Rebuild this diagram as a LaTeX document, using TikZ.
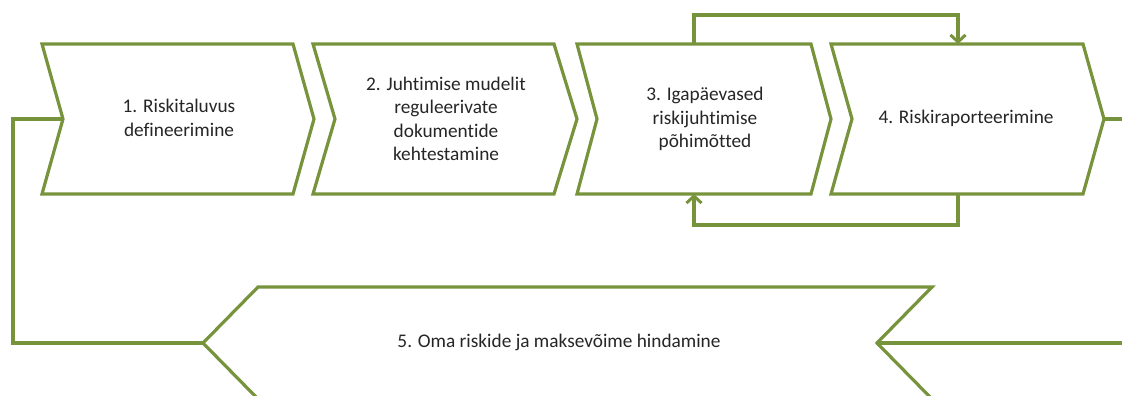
\documentclass[tikz,border=0pt]{standalone}
\usepackage{fontspec}
\setmainfont[Ligatures=NoCommon]{Carlito}
\usetikzlibrary{arrows.meta}
\definecolor{olive}{RGB}{119,147,60}
\tikzset{
  chev/.style={draw=olive, line width=3.2pt, line join=miter, fill=white},
  conn/.style={draw=olive, line width=3.2pt},
  arr/.style={conn, -{Straight Barb[length=7pt,width=15pt,line width=3pt]}},
  lbl/.style={align=center, font=\fontsize{19.3}{23.5}\selectfont, text=black!85, inner sep=0pt}
}
\begin{document}
\begin{tikzpicture}[x=1pt,y=-1pt]
\useasboundingbox (0,0) rectangle (1122,396);
% chevron 1
\coordinate (c1n) at (63,119);
\coordinate (c1t) at (314,119);
\draw[chev] (42,44) -- (293,44) -- (c1t) -- (293,194) -- (42,194) -- (c1n) -- cycle;
\node[lbl] (t1) at (179,118) {1. Riskitaluvus\\defineerimine};
% chevron 2
\draw[chev] (313,44) -- (554,44) -- (577,119) -- (554,194) -- (313,194) -- (335,119) -- cycle;
\node[lbl] (t2) at (446,119) {2. Juhtimise mudelit\\reguleerivate\\dokumentide\\kehtestamine};
% chevron 3
\coordinate (c3top) at (694,44);
\coordinate (c3bot) at (694,194);
\draw[chev] (577,44) -- (811,44) -- (831,119) -- (811,194) -- (577,194) -- (597,119) -- cycle;
\node[lbl] (t3) at (705,119) {3. Igapäevased\\riskijuhtimise\\põhimõtted};
% chevron 4
\coordinate (c4top) at (958,44);
\coordinate (c4bot) at (958,194);
\coordinate (c4t) at (1104,119);
\draw[chev] (831,44) -- (1083,44) -- (c4t) -- (1083,194) -- (831,194) -- (852,119) -- cycle;
\node[lbl] (t4) at (966,118) {4. Riskiraporteerimine};
% chevron 5 (pointing left)
\coordinate (c5t) at (203,343);
\coordinate (c5n) at (877,343);
\draw[chev] (258,287) -- (932,287) -- (c5n) -- (932,399) -- (258,399) -- (c5t) -- cycle;
\node[lbl] (t5) at (559,342) {5. Oma riskide ja maksevõime hindamine};
% free ends
\coordinate (eR1) at (1124,119);
\coordinate (eR2) at (1124,343);
% connectors
\draw[arr] (c3top) |- (826,15) -| (c4top);
\draw[arr] (c4bot) |- (826,225) -| (c3bot);
\draw[conn] (c1n) -| (13,230) |- (c5t);
\draw[conn] (c4t) -- (eR1);
\draw[conn] (c5n) -- (eR2);
\end{tikzpicture}
\end{document}
